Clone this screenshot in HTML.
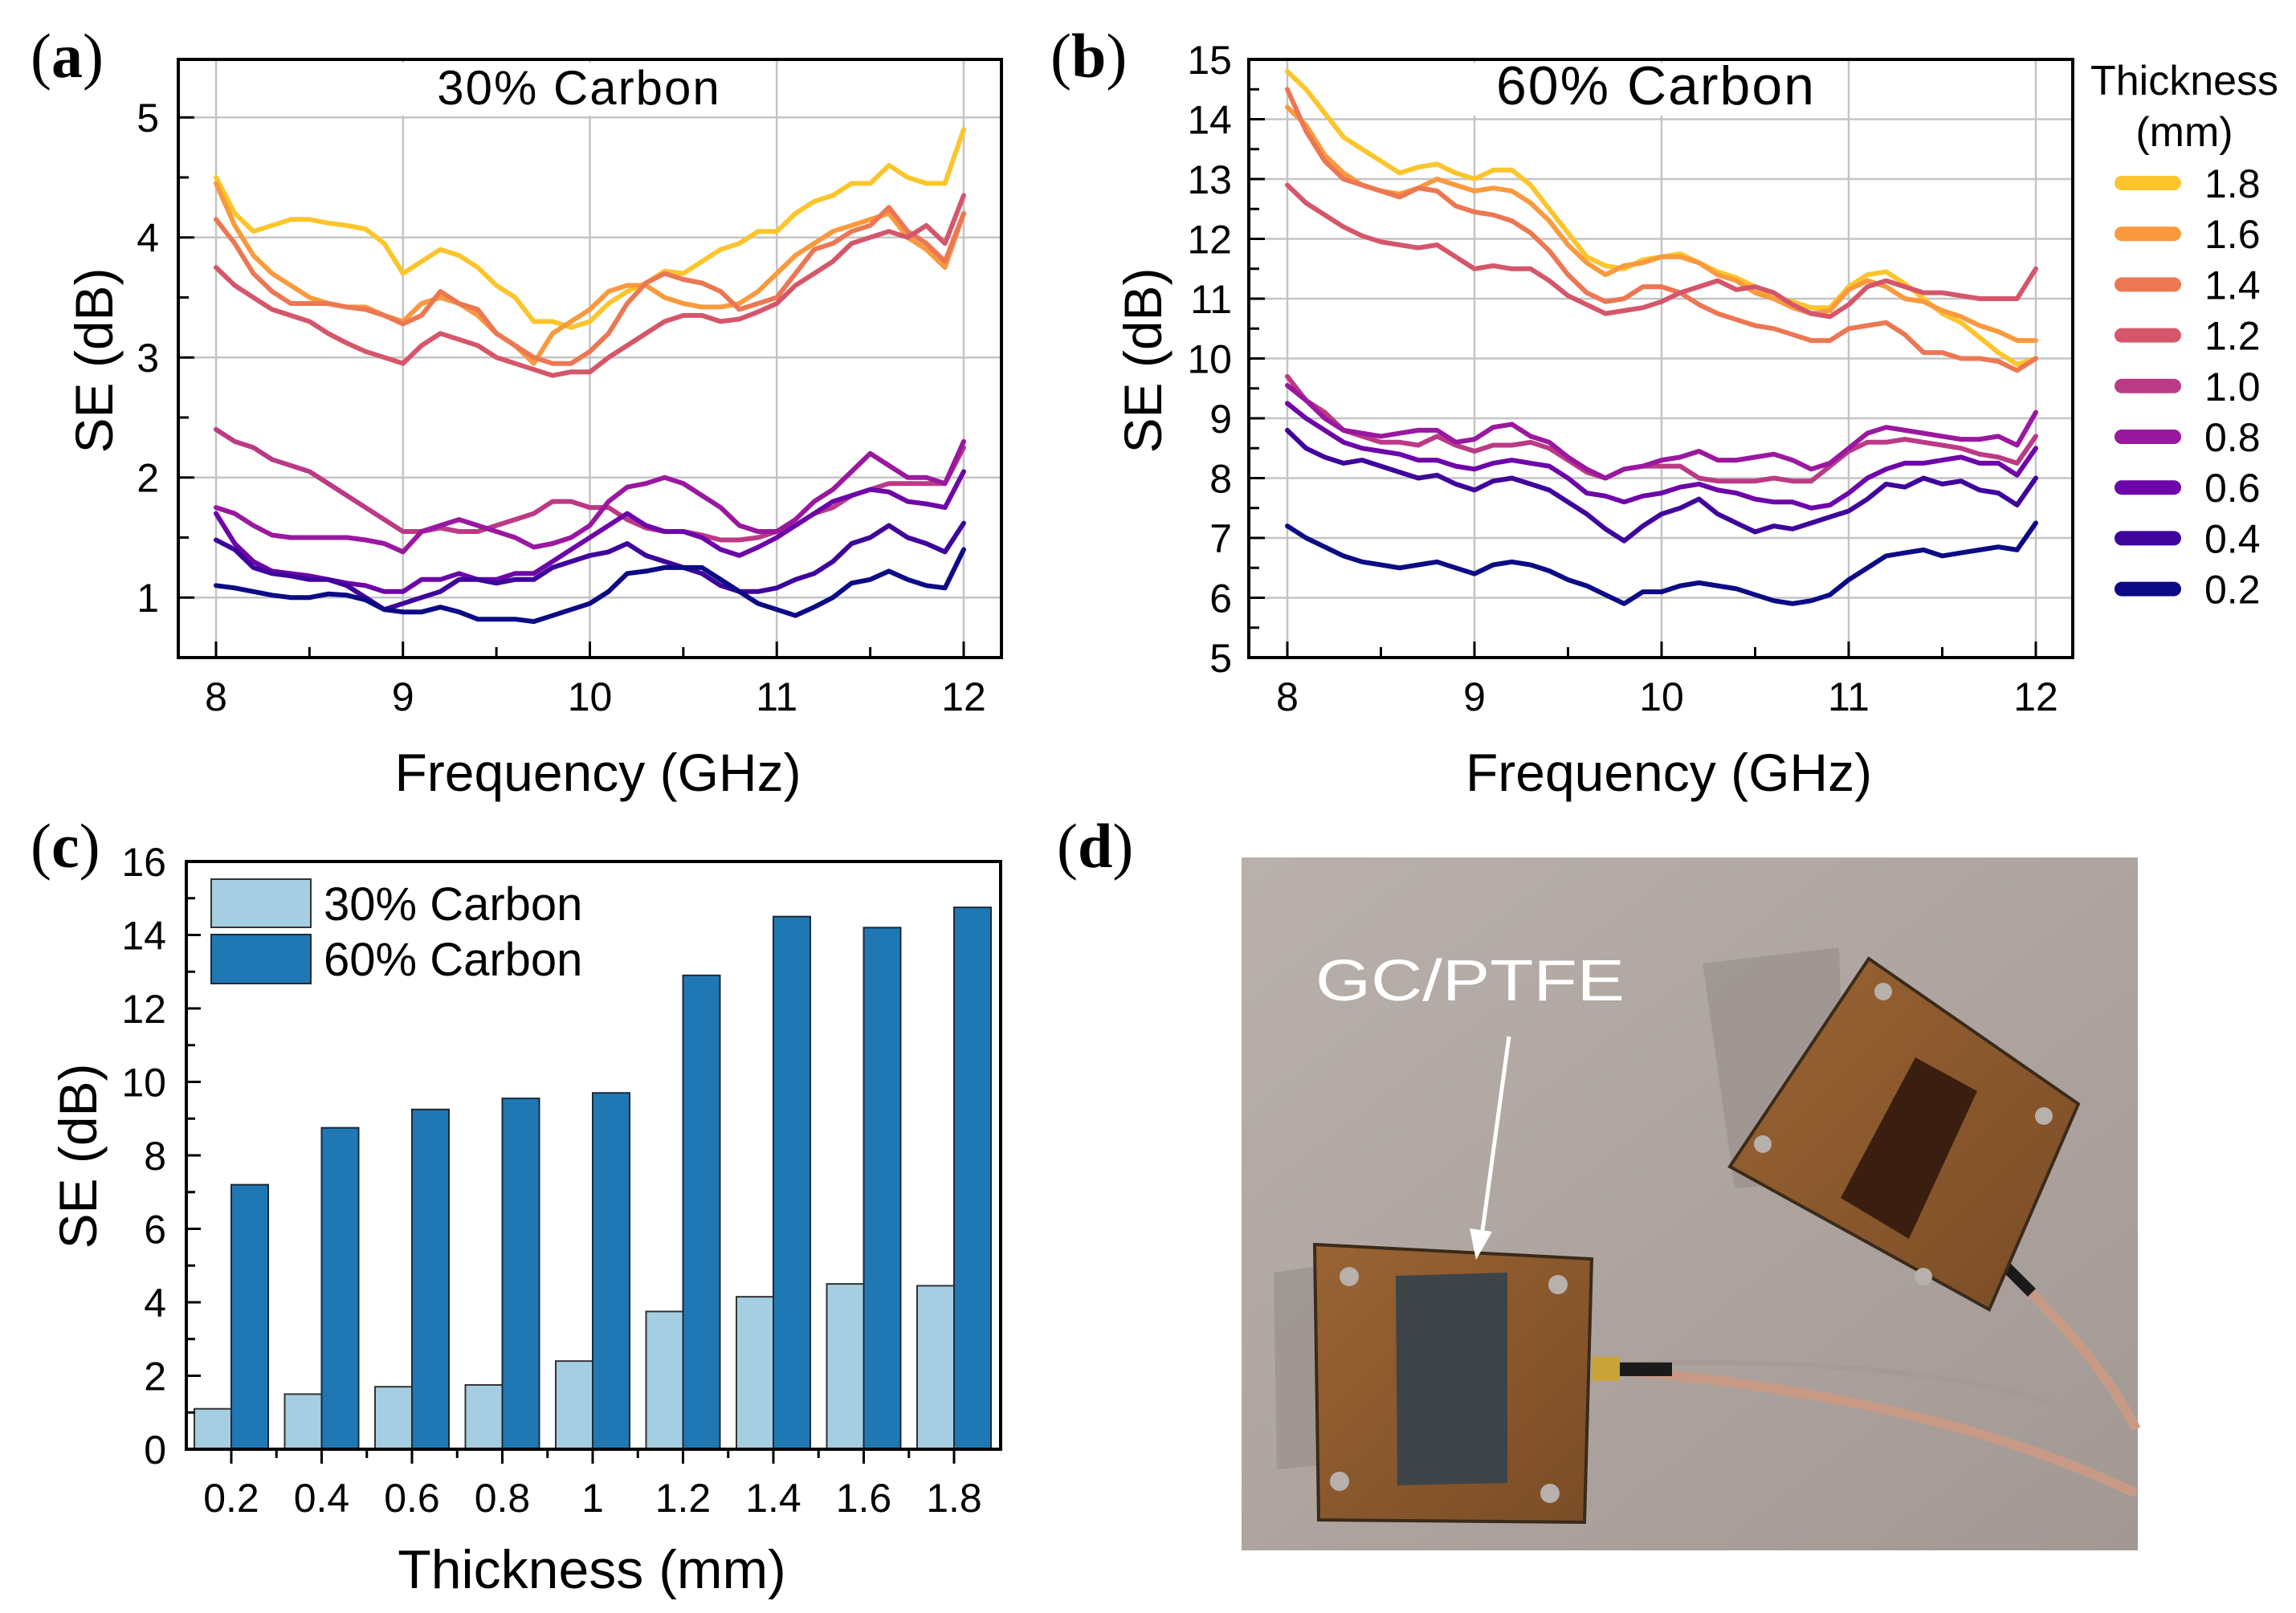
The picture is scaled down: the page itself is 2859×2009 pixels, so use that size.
<!DOCTYPE html>
<html><head><meta charset="utf-8"><style>
html,body{margin:0;padding:0;background:#fff;}
svg{display:block;font-family:"Liberation Sans","DejaVu Sans",sans-serif;}
</style></head><body>
<svg id="fig" width="2859" height="2009" viewBox="0 0 2859 2009" xmlns="http://www.w3.org/2000/svg">
<defs>
<linearGradient id="bg" x1="0" y1="0" x2="1" y2="1"><stop offset="0" stop-color="#b9b0ab"/><stop offset="1" stop-color="#a29894"/></linearGradient>
<linearGradient id="cu" x1="0" y1="0" x2="1" y2="1"><stop offset="0" stop-color="#9a6434"/><stop offset="1" stop-color="#7a4c26"/></linearGradient>
</defs>
<g id="pa"></g>
<g id="pb"></g>
<g id="pc"></g>
<g id="pd">
  <rect x="1546" y="1068" width="1116" height="863" fill="url(#bg)"/>
  <polygon points="2120,1200 2290,1180 2300,1470 2160,1480" fill="#9c9490" opacity="0.8"/>
  <polygon points="1586,1585 1690,1570 1700,1820 1590,1830" fill="#9c9490" opacity="0.8"/>
  <path d="M2480,1560 C2560,1640 2620,1700 2660,1780" stroke="#c89a86" stroke-width="12" fill="none"/>
  <path d="M2480,1560 L2530,1610" stroke="#1a1a1a" stroke-width="14"/>
  <polygon points="2327,1194 2588,1375 2477,1631 2154,1453" fill="url(#cu)" stroke="#3a2a1a" stroke-width="4"/>
  <polygon points="2385,1317 2462,1359 2377,1543 2292,1492" fill="#3a1e10"/>
  <circle cx="2345" cy="1235" r="11" fill="#b8b0ab"/><circle cx="2545" cy="1390" r="11" fill="#b8b0ab"/><circle cx="2195" cy="1425" r="11" fill="#b8b0ab"/><circle cx="2395" cy="1590" r="11" fill="#b8b0ab"/>
  <path d="M1990,1705 C2200,1720 2450,1760 2660,1860" stroke="#c89a86" stroke-width="12" fill="none"/>
  <path d="M1990,1700 C2200,1690 2500,1700 2660,1790" stroke="#a59a95" stroke-width="6" fill="none"/>
  <rect x="1982" y="1690" width="35" height="30" fill="#c9a23a"/>
  <rect x="2017" y="1697" width="65" height="17" fill="#1a1a1a"/>
  <polygon points="1637,1550 1982,1568 1973,1896 1642,1893" fill="url(#cu)" stroke="#3a2a1a" stroke-width="4"/>
  <polygon points="1738,1589 1877,1585 1877,1847 1740,1850" fill="#3c4448"/>
  <circle cx="1680" cy="1590" r="12" fill="#b8b0ab"/><circle cx="1940" cy="1600" r="12" fill="#b8b0ab"/><circle cx="1668" cy="1845" r="12" fill="#b8b0ab"/><circle cx="1930" cy="1860" r="12" fill="#b8b0ab"/>
  <line x1="1879" y1="1291" x2="1845" y2="1540" stroke="#fff" stroke-width="5"/>
  <polygon points="1838,1569 1830,1530 1858,1534" fill="#fff"/>
  <text x="1638" y="1246" font-size="72" fill="#fff" textLength="385" lengthAdjust="spacingAndGlyphs">GC/PTFE</text>
</g>
<text x="1316" y="1080" font-family="Liberation Serif,serif" font-size="78">(<tspan font-weight="bold">d</tspan>)</text>
</svg>
<script>
const freqs = [];
for (let i = 0; i <= 40; i++) freqs.push(8 + i * 0.1);
const thicknessLabels = ["1.8","1.6","1.4","1.2","1.0","0.8","0.6","0.4","0.2"];
const seriesColors = ["#fcc52c","#f99a3e","#ec7753","#d5566a","#bb3a85","#9a189f","#6d06a8","#3e049c","#0d0a86"];

const a18 = [4.5,4.2,4.05,4.1,4.15,4.15,4.12,4.1,4.07,3.95,3.7,3.8,3.9,3.85,3.75,3.6,3.5,3.3,3.3,3.25,3.3,3.45,3.55,3.62,3.72,3.7,3.8,3.9,3.95,4.05,4.05,4.2,4.3,4.35,4.45,4.45,4.6,4.5,4.45,4.45,4.9];
const a16 = [4.45,4.1,3.85,3.7,3.6,3.5,3.45,3.42,3.42,3.35,3.3,3.45,3.5,3.45,3.35,3.2,3.1,2.95,3.2,3.3,3.4,3.55,3.6,3.6,3.5,3.45,3.42,3.42,3.45,3.55,3.7,3.85,3.95,4.05,4.1,4.15,4.2,4.0,3.9,3.75,4.2];
const a14 = [4.15,3.95,3.7,3.55,3.45,3.45,3.45,3.42,3.4,3.35,3.28,3.35,3.55,3.45,3.4,3.2,3.1,3.0,2.95,2.95,3.05,3.2,3.45,3.62,3.7,3.65,3.62,3.55,3.4,3.45,3.5,3.7,3.9,3.95,4.05,4.1,4.25,4.05,3.95,3.8,4.2];
const a12 = [3.75,3.6,3.5,3.4,3.35,3.3,3.2,3.12,3.05,3.0,2.95,3.1,3.2,3.15,3.1,3.0,2.95,2.9,2.85,2.88,2.88,3.0,3.1,3.2,3.3,3.35,3.35,3.3,3.32,3.38,3.45,3.6,3.7,3.8,3.95,4.0,4.05,4.0,4.1,3.95,4.35];
const a10 = [2.4,2.3,2.25,2.15,2.1,2.05,1.95,1.85,1.75,1.65,1.55,1.55,1.58,1.55,1.55,1.6,1.65,1.7,1.8,1.8,1.75,1.75,1.65,1.58,1.55,1.55,1.52,1.48,1.48,1.5,1.55,1.6,1.7,1.75,1.85,1.9,1.95,1.95,1.95,1.95,2.25];
const a08 = [1.75,1.7,1.6,1.52,1.5,1.5,1.5,1.5,1.48,1.45,1.38,1.55,1.6,1.65,1.6,1.55,1.5,1.42,1.45,1.5,1.6,1.8,1.92,1.95,2.0,1.95,1.85,1.75,1.6,1.55,1.55,1.65,1.8,1.9,2.05,2.2,2.1,2.0,2.0,1.95,2.3];
const a06 = [1.7,1.45,1.3,1.22,1.2,1.18,1.15,1.12,1.1,1.05,1.05,1.15,1.15,1.2,1.15,1.15,1.2,1.2,1.3,1.4,1.5,1.6,1.7,1.6,1.55,1.55,1.5,1.4,1.35,1.42,1.5,1.6,1.7,1.8,1.85,1.9,1.88,1.8,1.78,1.75,2.05];
const a04 = [1.48,1.4,1.25,1.2,1.18,1.15,1.15,1.1,1.0,0.9,0.95,1.0,1.05,1.15,1.15,1.12,1.15,1.15,1.25,1.3,1.35,1.38,1.45,1.35,1.3,1.25,1.2,1.1,1.05,1.05,1.08,1.15,1.2,1.3,1.45,1.5,1.6,1.5,1.45,1.38,1.62];
const a02 = [1.1,1.08,1.05,1.02,1.0,1.0,1.03,1.02,0.98,0.9,0.88,0.88,0.92,0.88,0.82,0.82,0.82,0.8,0.85,0.9,0.95,1.05,1.2,1.22,1.25,1.25,1.25,1.15,1.05,0.95,0.9,0.85,0.92,1.0,1.12,1.15,1.22,1.15,1.1,1.08,1.4];

const b18 = [14.8,14.5,14.1,13.7,13.5,13.3,13.1,13.2,13.25,13.1,13.0,13.15,13.15,12.9,12.5,12.1,11.7,11.55,11.5,11.65,11.7,11.75,11.6,11.45,11.35,11.2,11.0,10.95,10.85,10.85,11.2,11.4,11.45,11.25,11.0,10.75,10.6,10.35,10.1,9.9,10.0];
const b16 = [14.2,13.9,13.4,13.1,12.9,12.8,12.75,12.85,13.0,12.9,12.8,12.85,12.8,12.6,12.3,11.9,11.6,11.4,11.55,11.6,11.7,11.7,11.6,11.4,11.3,11.1,11.0,10.85,10.75,10.8,11.15,11.3,11.2,11.0,10.95,10.8,10.7,10.55,10.45,10.3,10.3];
const b14 = [14.5,13.8,13.3,13.0,12.9,12.8,12.7,12.85,12.8,12.55,12.45,12.4,12.3,12.1,11.8,11.4,11.1,10.95,11.0,11.2,11.2,11.1,10.9,10.75,10.65,10.55,10.5,10.4,10.3,10.3,10.5,10.55,10.6,10.4,10.1,10.1,10.0,10.0,9.95,9.8,10.0];
const b12 = [12.9,12.6,12.4,12.2,12.05,11.95,11.9,11.85,11.9,11.7,11.5,11.55,11.5,11.5,11.3,11.05,10.9,10.75,10.8,10.85,10.95,11.1,11.2,11.3,11.15,11.2,11.1,10.9,10.75,10.7,10.9,11.2,11.3,11.2,11.1,11.1,11.05,11.0,11.0,11.0,11.5];
const b10 = [9.7,9.3,9.1,8.8,8.7,8.6,8.6,8.55,8.7,8.55,8.45,8.55,8.55,8.6,8.5,8.3,8.1,8.0,8.15,8.2,8.2,8.2,8.0,7.95,7.95,7.95,8.0,7.95,7.95,8.2,8.45,8.6,8.6,8.65,8.6,8.55,8.5,8.4,8.35,8.25,8.7];
const b08 = [9.55,9.3,9.0,8.8,8.75,8.7,8.75,8.8,8.8,8.6,8.65,8.85,8.9,8.7,8.6,8.35,8.15,8.0,8.15,8.2,8.3,8.35,8.45,8.3,8.3,8.35,8.4,8.3,8.15,8.25,8.5,8.75,8.85,8.8,8.75,8.7,8.65,8.65,8.7,8.55,9.1];
const b06 = [9.25,9.0,8.8,8.6,8.5,8.45,8.4,8.3,8.3,8.2,8.15,8.25,8.3,8.25,8.2,8.0,7.75,7.7,7.6,7.7,7.75,7.85,7.9,7.8,7.75,7.65,7.6,7.6,7.5,7.55,7.75,8.0,8.15,8.25,8.25,8.3,8.35,8.25,8.25,8.05,8.5];
const b04 = [8.8,8.5,8.35,8.25,8.3,8.2,8.1,8.0,8.05,7.9,7.8,7.95,8.0,7.9,7.8,7.6,7.4,7.15,6.95,7.2,7.4,7.5,7.65,7.4,7.25,7.1,7.2,7.15,7.25,7.35,7.45,7.65,7.9,7.85,8.0,7.9,7.95,7.8,7.75,7.55,8.0];
const b02 = [7.2,7.0,6.85,6.7,6.6,6.55,6.5,6.55,6.6,6.5,6.4,6.55,6.6,6.55,6.45,6.3,6.2,6.05,5.9,6.1,6.1,6.2,6.25,6.2,6.15,6.05,5.95,5.9,5.95,6.05,6.3,6.5,6.7,6.75,6.8,6.7,6.75,6.8,6.85,6.8,7.25];

const seriesA = [a18,a16,a14,a12,a10,a08,a06,a04,a02];
const seriesB = [b18,b16,b14,b12,b10,b08,b06,b04,b02];
const xTicks = [8,9,10,11,12];
const yTicksA = [1,2,3,4,5];
const yTicksB = [5,6,7,8,9,10,11,12,13,14,15];

const barCats = ["0.2","0.4","0.6","0.8","1","1.2","1.4","1.6","1.8"];
const bar30 = [1.1,1.5,1.7,1.75,2.4,3.75,4.15,4.5,4.45];
const bar60 = [7.2,8.75,9.25,9.55,9.7,12.9,14.5,14.2,14.75];
const yTicksC = [0,2,4,6,8,10,12,14,16];

const NS = "http://www.w3.org/2000/svg";
function mk(parent, tag, attrs, text) {
  const e = document.createElementNS(NS, tag);
  for (const k in attrs) e.setAttribute(k, attrs[k]);
  if (text !== undefined) e.textContent = text;
  parent.appendChild(e);
  return e;
}

function linePanel(g, L, series, yTicks, yMin, yMax, title, titleSize, letter, letterX, ylabelX, ytickX, titleX, gridYs) {
  const xs = v => L.xa + (v - 8) * (L.xb - L.xa) / 4;
  const ys = v => L.y1 - (v - yMin) * (L.y1 - L.y0) / (yMax - yMin);
  for (const t of xTicks) {
    const gl = mk(g, "line", {x1: xs(t), x2: xs(t), y1: L.y0, y2: L.y1, stroke: "#c4c4c4", "stroke-width": 2.5});
    
    
  }
  for (const t of gridYs) {
    const gl = mk(g, "line", {x1: L.x0, x2: L.x1, y1: ys(t), y2: ys(t), stroke: "#c4c4c4", "stroke-width": 2.5});
    
    
  }
  const tt = mk(g, "rect", {x: titleX - 230, y: 78, width: 460, height: 66, fill: "#fff"});
  series.forEach((arr, si) => {
    const d = arr.map((v, i) => (i ? "L" : "M") + xs(freqs[i]).toFixed(1) + "," + ys(v).toFixed(1)).join(" ");
    const p = mk(g, "path", {d: d, fill: "none", stroke: seriesColors[si], "stroke-width": 6, "stroke-linejoin": "round", "stroke-linecap": "round"});
    
    
  });
  for (let t = 8; t <= 12.001; t += 0.5) {
    const major = Math.abs(t - Math.round(t)) < 0.01;
    mk(g, "line", {x1: xs(t), x2: xs(t), y1: L.y1, y2: L.y1 - (major ? 20 : 13), stroke: "#000", "stroke-width": 3});
  }
  for (let t = Math.ceil(yMin * 2) / 2; t <= yMax + 0.001; t += 0.5) {
    const major = Math.abs(t - Math.round(t)) < 0.01;
    mk(g, "line", {x1: L.x0, x2: L.x0 + (major ? 20 : 13), y1: ys(t), y2: ys(t), stroke: "#000", "stroke-width": 3});
  }
  const fr = mk(g, "rect", {x: L.x0, y: L.y0, width: L.x1 - L.x0, height: L.y1 - L.y0, fill: "none", stroke: "#000", "stroke-width": 4});
  
  
  for (const t of xTicks) {
    const tl = mk(g, "text", {x: xs(t), y: L.y1 + 66, "font-size": 50, "text-anchor": "middle"}, String(t));
    
    
  }
  for (const t of yTicks) {
    const tl = mk(g, "text", {x: ytickX, y: ys(t) + 18, "font-size": 50, "text-anchor": "end"}, String(t));
    
    
  }
  const xt = mk(g, "text", {x: (L.x0 + L.x1) / 2 + 10, y: 985, "font-size": 66, "text-anchor": "middle"}, "Frequency (GHz)");
  
  
  const yt = mk(g, "text", {x: 0, y: 0, "font-size": 66, "text-anchor": "middle", transform: "translate(" + ylabelX + ",449) rotate(-90)"}, "SE (dB)");
  
  
  const ti = mk(g, "text", {x: titleX, y: 130, "font-size": titleSize, "text-anchor": "middle", "letter-spacing": 2}, title);
  
  
  const pl = mk(g, "text", {x: letterX, y: 96, "font-size": 78, "font-family": "Liberation Serif,serif"});
  
  
  mk(pl, "tspan", {}, "(");
  mk(pl, "tspan", {"font-weight": "bold"}, letter);
  mk(pl, "tspan", {}, ")");
}

const gA = document.getElementById("pa");
linePanel(gA, {x0: 222, x1: 1247, y0: 74, y1: 819, xa: 269, xb: 1200}, seriesA, yTicksA, 0.5, 5.483, "30% Carbon", 60, "a", 38, 140, 198, 721, [1,2,3,4,5]);
const gB = document.getElementById("pb");
linePanel(gB, {x0: 1555, x1: 2581, y0: 74, y1: 819, xa: 1603, xb: 2535}, seriesB, yTicksB, 5, 15, "60% Carbon", 68, "b", 1308, 1446, 1534, 2062, [6,7,8,9,10,11,12,13,14]);

const lg = mk(gB, "g", {});


const lt1 = mk(lg, "text", {x: 2720, y: 118, "font-size": 52, "text-anchor": "middle"}, "Thickness");


mk(lg, "text", {x: 2720, y: 182, "font-size": 52, "text-anchor": "middle"}, "(mm)");
thicknessLabels.forEach((lab, i) => {
  const y = 228 + i * 63.2;
  const sw = mk(lg, "line", {x1: 2642, x2: 2707, y1: y, y2: y, stroke: seriesColors[i], "stroke-width": 18, "stroke-linecap": "round"});
  
  
  const tx = mk(lg, "text", {x: 2745, y: y + 18, "font-size": 50}, lab);
  
  
});

const gC = document.getElementById("pc");
const C = {x0: 232, x1: 1246, y0: 1073, y1: 1805};
const cx = i => 288 + i * 112.5;
const cy = v => C.y1 - v * (C.y1 - C.y0) / 16;
barCats.forEach((c, i) => {
  const r1 = mk(gC, "rect", {x: cx(i) - 46, y: cy(bar30[i]), width: 46, height: C.y1 - cy(bar30[i]), fill: "#a6cee3", stroke: "#333", "stroke-width": 2});
  
  
  const r2 = mk(gC, "rect", {x: cx(i), y: cy(bar60[i]), width: 46, height: C.y1 - cy(bar60[i]), fill: "#1f78b4", stroke: "#1a2a3a", "stroke-width": 2});
  
  
  mk(gC, "line", {x1: cx(i), x2: cx(i), y1: C.y1, y2: C.y1 + 18, stroke: "#000", "stroke-width": 3});
  const tl = mk(gC, "text", {x: cx(i), y: C.y1 + 78, "font-size": 50, "text-anchor": "middle"}, c);
  
  
});
for (let i = 0; i < barCats.length - 1; i++) {
  const mx = (cx(i) + cx(i + 1)) / 2;
  mk(gC, "line", {x1: mx, x2: mx, y1: C.y1, y2: C.y1 + 11, stroke: "#000", "stroke-width": 3});
}
for (let t = 0; t <= 16; t += 1) {
  mk(gC, "line", {x1: C.x0, x2: C.x0 + (t % 2 === 0 ? 18 : 11), y1: cy(t), y2: cy(t), stroke: "#000", "stroke-width": 3});
}
yTicksC.forEach(t => {
  const tl = mk(gC, "text", {x: 207, y: cy(t) + 18, "font-size": 50, "text-anchor": "end"}, String(t));
  
  
});
const frC = mk(gC, "rect", {x: C.x0, y: C.y0, width: C.x1 - C.x0, height: C.y1 - C.y0, fill: "none", stroke: "#000", "stroke-width": 4});


const xtC = mk(gC, "text", {x: 737, y: 1978, "font-size": 68, "text-anchor": "middle"}, "Thickness (mm)");


const ytC = mk(gC, "text", {x: 0, y: 0, "font-size": 66, "text-anchor": "middle", transform: "translate(120,1440) rotate(-90)"}, "SE (dB)");


const lgc1 = mk(gC, "rect", {x: 263, y: 1095, width: 124, height: 60, fill: "#a6cee3", stroke: "#333", "stroke-width": 2});


const lgt1 = mk(gC, "text", {x: 403, y: 1146, "font-size": 58}, "30% Carbon");


const lgc2 = mk(gC, "rect", {x: 263, y: 1164, width: 124, height: 61, fill: "#1f78b4", stroke: "#1a2a3a", "stroke-width": 2});


const lgt2 = mk(gC, "text", {x: 403, y: 1215, "font-size": 58}, "60% Carbon");


const plc = mk(gC, "text", {x: 38, y: 1080, "font-size": 78, "font-family": "Liberation Serif,serif"});


mk(plc, "tspan", {}, "(");
mk(plc, "tspan", {"font-weight": "bold"}, "c");
mk(plc, "tspan", {}, ")");
</script>
</body></html>
